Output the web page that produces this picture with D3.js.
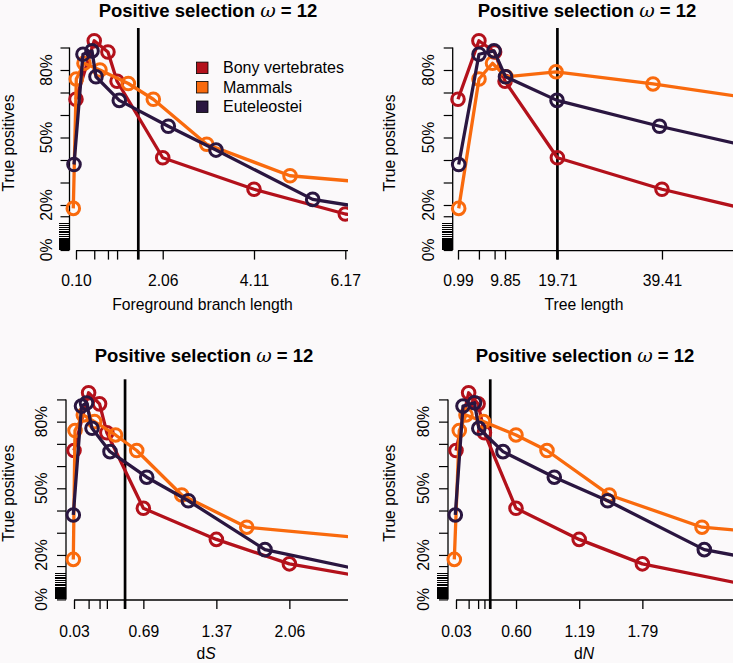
<!DOCTYPE html>
<html><head><meta charset="utf-8">
<script src="https://cdn.jsdelivr.net/npm/d3@7"></script>
<style>
body{margin:0;background:#fbf9fa;}
svg{display:block;}
text{font-family:"Liberation Sans",Arial,Helvetica,sans-serif;fill:#000;}
</style></head><body>
<svg id="c" width="733" height="663"></svg>
<script>
// ---------------- data ----------------
const seriesNames = ["Bony vertebrates", "Mammals", "Euteleostei"];
const seriesColors = ["#b3111b", "#f96a0d", "#2a1640"];

const yTickValues = [0, 15, 20, 30, 40, 50, 60, 70, 80, 90];
const yLabelValues = [0, 20, 50, 80];
const rugValues = [0.4, 0.8, 1.2, 1.6, 2.0, 2.4, 2.8, 3.2, 3.6, 4.0, 4.4, 4.8, 5.3, 6.1, 6.9, 7.6, 8.4, 9.2, 10.0, 10.8, 11.8];

const xFactors = [1, 5, 8, 10, 20, 40, 60, 100];

// True positives (%) - Bony vertebrates, same in every panel
const redY = [67, 93, 88, 75, 41, 27, 16, 4.5];

// Panel 1: foreground branch length
const p1TickValues = [0.1028, 0.514, 0.8224, 1.028, 2.056, 4.112, 6.168, 10.28];
const p1TickLabels = ["0.10", "", "", "", "2.06", "4.11", "6.17", "10.28"];
const p1RedX = [0.1028, 0.514, 0.8224, 1.028, 2.056, 4.112, 6.168, 10.28];
const p1OrangeX = [0.042, 0.110, 0.283, 0.643, 1.281, 1.844, 3.047, 4.923, 7.851];
const p1OrangeY = [18.5, 76, 83, 80, 74, 67, 47, 33, 28];
const p1PurpleX = [0.058, 0.260, 0.463, 0.553, 1.078, 2.182, 3.256, 5.434, 7.40];
const p1PurpleY = [38, 87, 88.5, 77, 66.5, 55, 44.4, 22.5, 16.3];
const p1Marker = 1.506;

// Panel 2: tree length
const p2TickValues = [0.985, 4.925, 7.88, 9.85, 19.71, 39.41, 59.12, 98.53];
const p2TickLabels = ["0.99", "", "", "9.85", "19.71", "39.41", "59.12", "98.53"];
const p2RedX = [0.985, 4.925, 7.88, 9.85, 19.71, 39.41, 59.12, 98.53];
const p2OrangeX = [1.117, 4.941, 7.485, 10.03, 19.45, 37.72, 56.56];
const p2OrangeY = [18.5, 76, 83, 77, 79.2, 73.8, 67.3];
const p2PurpleX = [1.117, 4.941, 7.767, 9.934, 19.64, 38.95, 58.82];
const p2PurpleY = [38, 87, 88.5, 77, 66.5, 55, 44.4];
const p2Marker = 19.71;

// Panel 3: dS
const p3TickValues = [0.0343, 0.1715, 0.2744, 0.343, 0.686, 1.372, 2.058, 3.43];
const p3TickLabels = ["0.03", "", "", "", "0.69", "1.37", "2.06", "3.43"];
const p3RedX = [0.0343, 0.1715, 0.2744, 0.343, 0.686, 1.372, 2.058, 3.43];
const p3OrangeX = [0.0277, 0.0437, 0.1217, 0.227, 0.4243, 0.6236, 1.0465, 1.6574, 3.286];
const p3OrangeY = [18, 76, 83, 80, 74, 67, 47, 32.5, 25.3];
const p3PurpleX = [0.0277, 0.1048, 0.1518, 0.2035, 0.3726, 0.7176, 1.1085, 1.829, 3.286];
const p3PurpleY = [38, 87, 88.4, 77, 66.5, 55, 44.4, 22.4, 7.7];
const p3Marker = 0.514;

// Panel 4: dN
const p4TickValues = [0.0298, 0.149, 0.2384, 0.298, 0.596, 1.192, 1.788, 2.98];
const p4TickLabels = ["0.03", "", "", "", "0.60", "1.19", "1.79", "2.98"];
const p4RedX = [0.0298, 0.149, 0.2384, 0.298, 0.596, 1.192, 1.788, 2.98];
const p4OrangeX = [0.0138, 0.0609, 0.1241, 0.2892, 0.5958, 0.8883, 1.476, 2.3506, 3.0864];
const p4OrangeY = [18, 76, 83, 80, 74, 67, 47, 32.5, 29.5];
const p4PurpleX = [0.0232, 0.0958, 0.2043, 0.2449, 0.4732, 0.9572, 1.4609, 2.3723, 3.0864];
const p4PurpleY = [38, 87, 88.5, 77, 66.5, 55, 44.4, 22.4, 16];
const p4Marker = 0.353;

// ---------------- layout ----------------
const panels = [
  { xLabel: ["Foreground branch length"], ticks: p1TickValues, tickLabels: p1TickLabels, marker: p1Marker,
    xDomain: [-0.370, 6.229], xRange: [55, 348], axisX: 69.5, yZero: 250, yPx: 2.25,
    titleX: 208, titleY: 16.7, tickLabY: 286, xLabX: 202.5, xLabY: 310, yTickLabX: 51.7, yLabX: 13.8, yLabY: 143, markerTop: 28,
    series: [[p1RedX, redY], [p1OrangeX, p1OrangeY], [p1PurpleX, p1PurpleY]], legend: true },
  { xLabel: ["Tree length"], ticks: p2TickValues, tickLabels: p2TickLabels, marker: p2Marker,
    xDomain: [-2.406, 52.79], xRange: [440, 733], axisX: 452.7, yZero: 250, yPx: 2.25,
    titleX: 587, titleY: 16.7, tickLabY: 286, xLabX: 584, xLabY: 310, yTickLabX: 434.3, yLabX: 395.4, yLabY: 143, markerTop: 28,
    series: [[p2RedX, redY], [p2OrangeX, p2OrangeY], [p2PurpleX, p2PurpleY]] },
  { xLabel: ["d", "S"], ticks: p3TickValues, tickLabels: p3TickLabels, marker: p3Marker,
    xDomain: [-0.1725, 2.609], xRange: [52, 348], axisX: 66, yZero: 599.4, yPx: 2.222,
    titleX: 204, titleY: 361.7, tickLabY: 637.3, xLabX: 206, xLabY: 658.5, yTickLabX: 46.7, yLabX: 13.8, yLabY: 493.3, markerTop: 379.3,
    series: [[p3RedX, redY], [p3OrangeX, p3OrangeY], [p3PurpleX, p3PurpleY]] },
  { xLabel: ["d", "N"], ticks: p4TickValues, tickLabels: p4TickLabels, marker: p4Marker,
    xDomain: [-0.1777, 2.643], xRange: [434, 733], axisX: 448, yZero: 599.4, yPx: 2.222,
    titleX: 585, titleY: 361.7, tickLabY: 637.3, xLabX: 584, xLabY: 658.5, yTickLabX: 429.3, yLabX: 395.4, yLabY: 493.3, markerTop: 379.3,
    series: [[p4RedX, redY], [p4OrangeX, p4OrangeY], [p4PurpleX, p4PurpleY]] }
];

const FS = 15.7;
const svg = d3.select("#c");
svg.append("rect").attr("width", 733).attr("height", 663).attr("fill", "#fbf9fa");
const defs = svg.append("defs");

panels.forEach((p, i) => {
  const g = svg.append("g");
  const x = d3.scaleLinear().domain(p.xDomain).range(p.xRange);
  const y = d3.scaleLinear().domain([0, 100]).range([p.yZero, p.yZero - p.yPx * 100]);
  const xAxisY = p.yZero + 0.6;

  // title
  const t = g.append("text").attr("x", p.titleX).attr("y", p.titleY)
    .attr("text-anchor", "middle").style("font-size", "18.5px").style("font-weight", "bold");
  t.append("tspan").text("Positive selection ");
  t.append("tspan").text("ω").style("font-style", "italic").style("font-weight", "normal")
    .style("font-family", "'DejaVu Serif','Liberation Serif',serif").style("font-size", "19px");
  t.append("tspan").text(" = 12");

  // vertical marker line
  g.append("line").attr("x1", x(p.marker)).attr("x2", x(p.marker))
    .attr("y1", p.markerTop).attr("y2", xAxisY + 9)
    .attr("stroke", "#000").attr("stroke-width", 2.7);

  // y axis
  const yAxis = d3.axisLeft(y).tickValues(yTickValues).tickFormat("").tickSize(9).tickSizeOuter(0);
  const ya = g.append("g").attr("transform", `translate(${p.axisX},0)`).call(yAxis);
  ya.select(".domain").remove();
  ya.selectAll("line").attr("stroke-width", 1.2);
  ya.append("line").attr("x1", 0).attr("x2", 0).attr("y1", y(90)).attr("y2", y(0))
    .attr("stroke", "#000").attr("stroke-width", 1.3);
  // rug
  g.append("g").attr("shape-rendering", "crispEdges").selectAll("line").data(rugValues).join("line")
    .attr("x1", p.axisX - 11).attr("x2", p.axisX)
    .attr("y1", d => y(d)).attr("y2", d => y(d))
    .attr("stroke", "#000").attr("stroke-width", 1);
  // y tick labels
  g.append("g").selectAll("text").data(yLabelValues).join("text")
    .attr("transform", d => `translate(${p.yTickLabX},${y(d)}) rotate(-90)`)
    .attr("text-anchor", "middle").style("font-size", FS + "px")
    .text(d => d + "%");
  g.append("text").attr("transform", `translate(${p.yLabX},${p.yLabY}) rotate(-90)`)
    .attr("text-anchor", "middle").style("font-size", FS + "px").text("True positives");

  // x axis
  const dom = x.domain();
  const idx = p.ticks.map((v, k) => k).filter(k => p.ticks[k] >= dom[0] && p.ticks[k] <= dom[1]);
  const xAxis = d3.axisBottom(x).tickValues(idx.map(k => p.ticks[k]))
    .tickFormat((d, k) => p.tickLabels[idx[k]]).tickSize(9).tickSizeOuter(0);
  const xa = g.append("g").attr("transform", `translate(0,${xAxisY})`).call(xAxis);
  xa.select(".domain").remove();
  xa.selectAll("line").attr("stroke-width", 1.3);
  xa.selectAll("text").attr("y", p.tickLabY - xAxisY).attr("dy", null)
    .style("font-size", FS + "px").style("font-family", "'Liberation Sans',Arial,sans-serif");
  xa.append("line").attr("x1", x(p.ticks[0])).attr("x2", p.xRange[1]).attr("y1", 0).attr("y2", 0)
    .attr("stroke", "#000").attr("stroke-width", 1.3);
  const xl = g.append("text").attr("x", p.xLabX).attr("y", p.xLabY)
    .attr("text-anchor", "middle").style("font-size", FS + "px");
  xl.append("tspan").text(p.xLabel[0]);
  if (p.xLabel.length > 1) xl.append("tspan").text(p.xLabel[1]).style("font-style", "italic");

  // clip
  const cid = "clip" + i;
  defs.append("clipPath").attr("id", cid).append("rect")
    .attr("x", p.xRange[0]).attr("y", y(100) - 20)
    .attr("width", p.xRange[1] - p.xRange[0]).attr("height", p.yPx * 100 + 30);

  const plot = g.append("g").attr("clip-path", `url(#${cid})`);
  const line = d3.line().x(d => x(d[0])).y(d => y(d[1]));
  p.series.forEach((s, k) => {
    const pts = s[0].map((xv, j) => [xv, s[1][j]]);
    const sg = plot.append("g");
    sg.append("path").attr("d", line(pts)).attr("fill", "none")
      .attr("stroke", seriesColors[k]).attr("stroke-width", 3.3).attr("stroke-linejoin", "round");
    sg.selectAll("circle").data(pts).join("circle")
      .attr("cx", d => x(d[0])).attr("cy", d => y(d[1])).attr("r", 6.3)
      .attr("fill", "none").attr("stroke", seriesColors[k]).attr("stroke-width", 3);
  });

  if (p.legend) {
    const lg = g.append("g");
    const rowY = [67.8, 87.2, 106.7];
    seriesNames.forEach((n, k) => {
      lg.append("rect").attr("x", 196.5).attr("y", rowY[k] - 5.7).attr("width", 11.5).attr("height", 11.5)
        .attr("fill", seriesColors[k]).attr("stroke", "#000").attr("stroke-width", 0.8);
      lg.append("text").attr("x", 223).attr("y", rowY[k] + 5.6).style("font-size", "16px").text(n);
    });
  }
});
</script>
</body></html>
